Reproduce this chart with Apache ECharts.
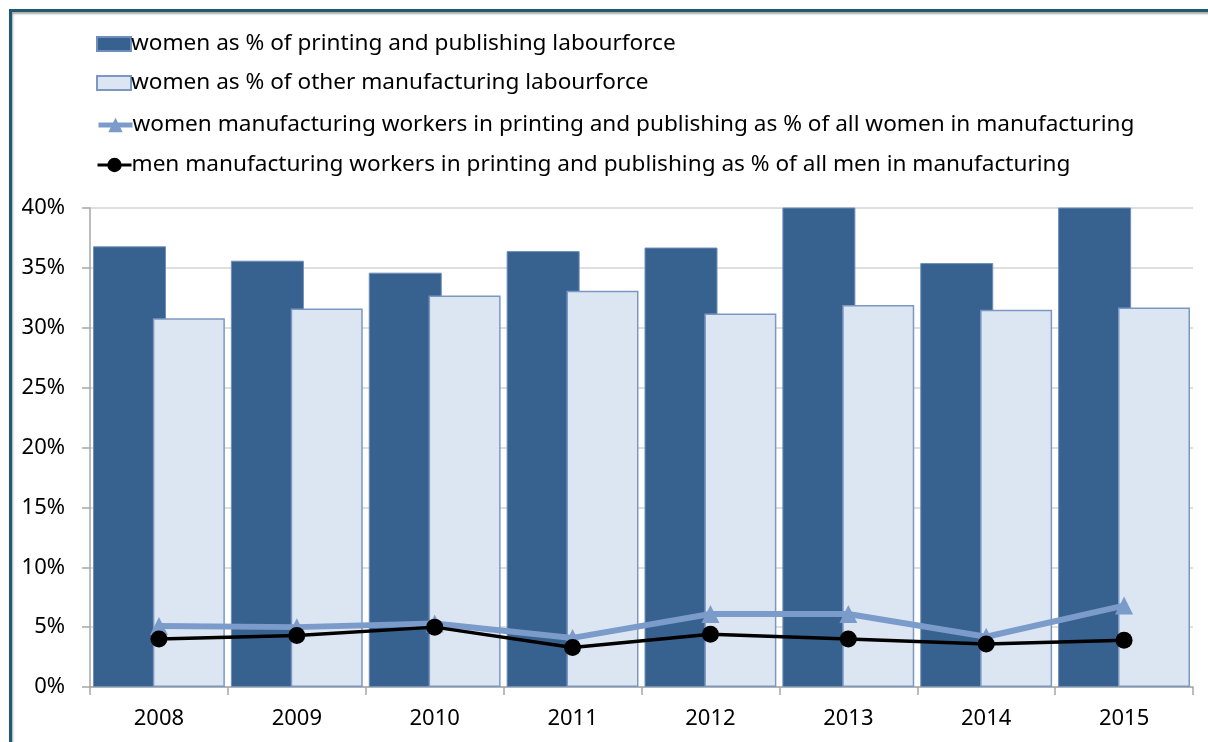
<!DOCTYPE html>
<html>
<head>
<meta charset="utf-8">
<script src="https://cdn.jsdelivr.net/npm/echarts@6/dist/echarts.min.js"></script>
<style>
html,body{margin:0;padding:0;background:#fff;}
#chart{width:1208px;height:742px;}
</style>
</head>
<body>
<div id="chart"></div>
<script>
const categories = ['2008','2009','2010','2011','2012','2013','2014','2015'];
const womenPrinting = [36.8, 35.6, 34.6, 36.4, 36.7, 41.5, 35.4, 41.5];
const womenOther = [30.8, 31.6, 32.7, 33.1, 31.2, 31.9, 31.5, 31.7];
const womenShare = [5.1, 5.0, 5.3, 4.1, 6.1, 6.1, 4.2, 6.8];
const menShare = [4.0, 4.3, 5.0, 3.3, 4.4, 4.0, 3.6, 3.9];
const yTicks = [0, 5, 10, 15, 20, 25, 30, 35, 40];

const names = [
  'women as % of printing and publishing labourforce',
  'women as % of other manufacturing labourforce',
  'women manufacturing workers in printing and publishing as % of all women in manufacturing',
  'men manufacturing workers in printing and publishing as % of all men in manufacturing'
];
const FONT = 'Noto Sans';
const legendTops = [32, 71, 115, 155];
const legendData = [
  {name: names[0], icon: 'rect'},
  {name: names[1], icon: 'rect'},
  {name: names[2], lineStyle: {width: 5}},
  {name: names[3], lineStyle: {width: 3}}
];
const legendItemH = [14, 14, 18, 18];

const chart = echarts.init(document.getElementById('chart'));
chart.setOption({
  animation: false,
  textStyle: {fontFamily: FONT},
  graphic: [{
    type: 'rect', left: 8, top: 8,
    shape: {x: 0, y: 0, width: 1400, height: 900},
    style: {fill: 'none', stroke: '#215a6e', lineWidth: 3, shadowColor: 'rgba(0,0,0,0.35)', shadowOffsetX: 1, shadowOffsetY: 2, shadowBlur: 2},
    silent: true
  }],
  legend: legendData.map((d, i) => ({
    data: [d], left: 96, top: legendTops[i] - (legendItemH[i] - 14) / 2, padding: 0,
    itemWidth: 34, itemHeight: legendItemH[i], itemGap: 0,
    textStyle: {fontFamily: FONT, fontSize: 22.6, lineHeight: 24, color: '#000', padding: [0, 0, 0, -5]},
    selectedMode: false
  })),
  grid: {left: 90, right: 15, top: 208, bottom: 55, containLabel: false},
  xAxis: {
    type: 'category', data: categories,
    axisLine: {lineStyle: {color: '#a6a6a6', width: 1.5}},
    axisTick: {show: true, length: 8, lineStyle: {color: '#a6a6a6', width: 1.5}},
    axisLabel: {fontFamily: FONT, fontSize: 22, color: '#000', margin: 21}
  },
  yAxis: {
    type: 'value', min: 0, max: 40, interval: 5,
    axisLine: {show: true, lineStyle: {color: '#a6a6a6', width: 1.5}},
    axisTick: {show: true, length: 8, lineStyle: {color: '#a6a6a6', width: 1.5}},
    splitLine: {lineStyle: {color: '#d4d4d4', width: 1.5}},
    axisLabel: {fontFamily: FONT, fontSize: 22, color: '#000', margin: 25,
      formatter: v => (yTicks.indexOf(v) >= 0 ? v + '%' : '')}
  },
  series: [
    {name: names[0], type: 'bar', data: womenPrinting, barWidth: 73, barGap: '-18%', clip: true,
      itemStyle: {color: '#37618f', borderColor: '#6f8fba', borderWidth: 1}},
    {name: names[1], type: 'bar', data: womenOther, barWidth: 72, clip: true,
      itemStyle: {color: '#dce6f2', borderColor: '#7c98c2', borderWidth: 1.5}},
    {name: names[2], type: 'line', data: womenShare, symbol: 'triangle', symbolSize: 18,
      lineStyle: {color: '#7b9bcb', width: 6}, itemStyle: {color: '#7b9bcb'}, z: 3},
    {name: names[3], type: 'line', data: menShare, symbol: 'circle', symbolSize: 17,
      lineStyle: {color: '#000', width: 3.5}, itemStyle: {color: '#000'}, z: 4}
  ]
});
</script>
</body>
</html>
